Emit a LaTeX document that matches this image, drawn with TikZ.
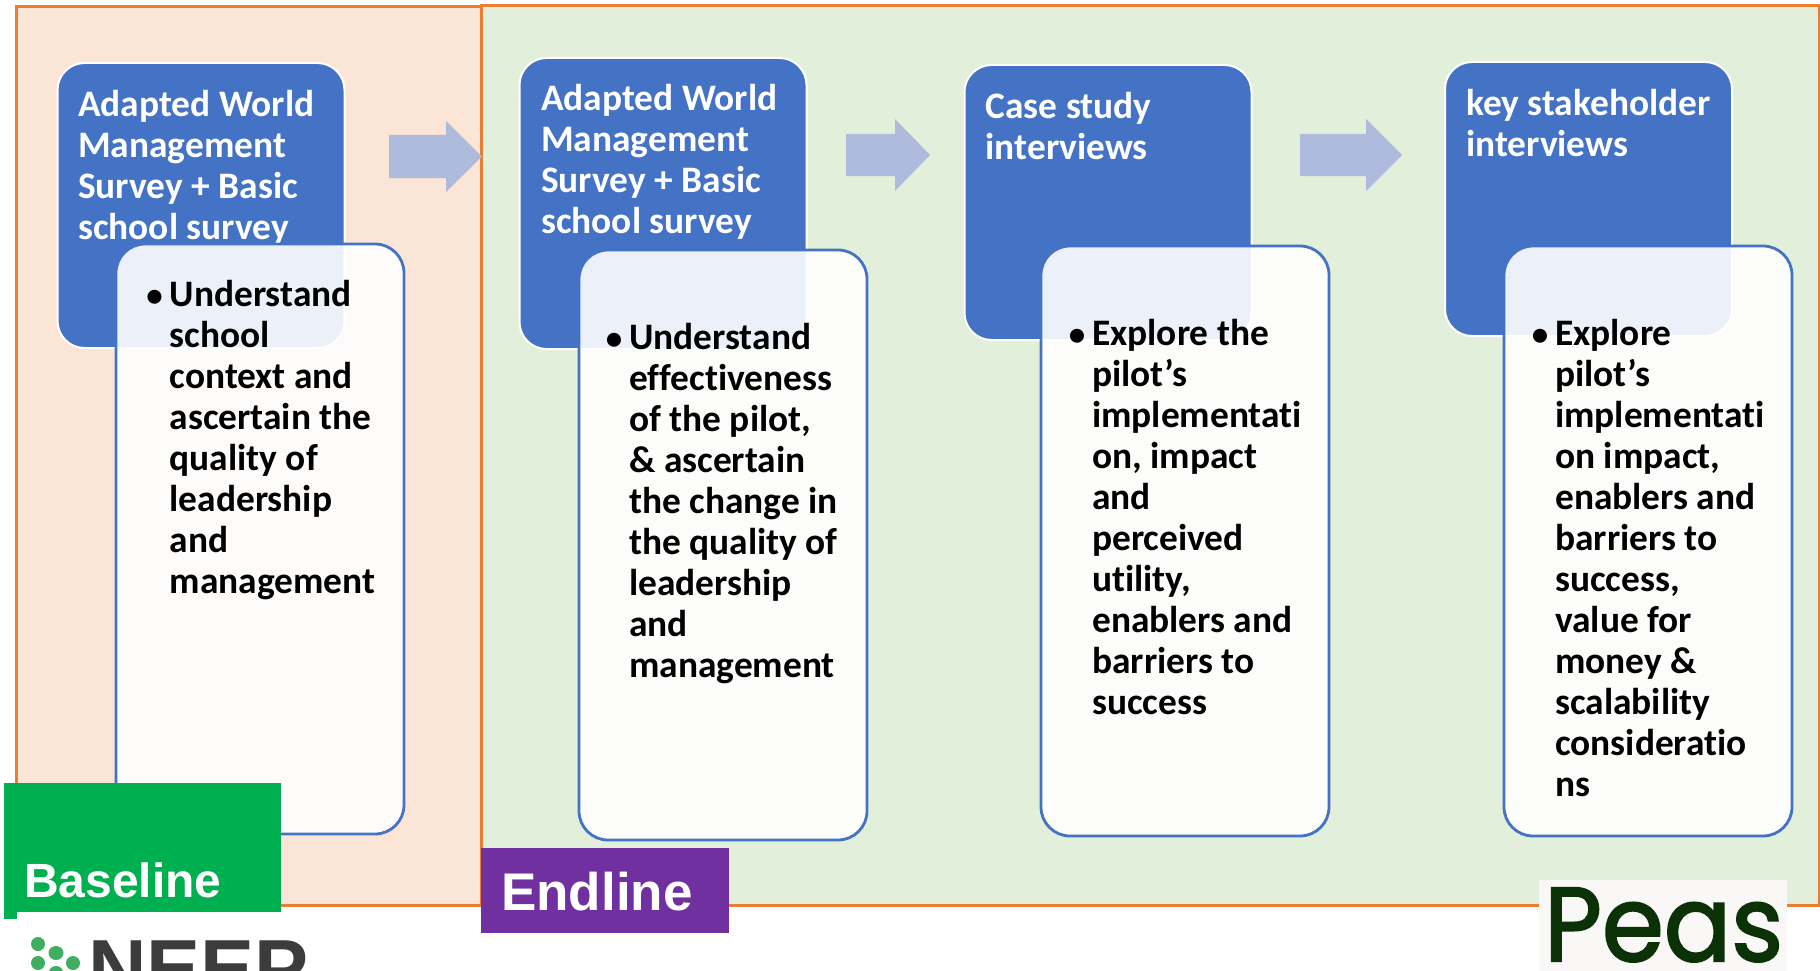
\documentclass[tikz,border=0pt]{standalone}
\usepackage{fontspec}
\setmainfont[Ligatures=NoCommon]{Carlito}
\newfontfamily\arialfont{Liberation Sans}
\newfontfamily\peasfont[FakeBold=2]{Poppins}
\definecolor{panelorange}{HTML}{ED7D31}
\definecolor{peach}{HTML}{FBE5D6}
\definecolor{palegreen}{HTML}{E2EFDA}
\definecolor{headblue}{HTML}{4472C4}
\definecolor{arrowblue}{HTML}{AEBBDD}
\definecolor{basegreen}{HTML}{00B050}
\definecolor{endpurple}{HTML}{7030A0}
\definecolor{neepgrey}{HTML}{3C3C3C}
\definecolor{neepgreen}{HTML}{3FAE60}
\definecolor{peasgreen}{HTML}{0B3207}
\definecolor{peasback}{HTML}{F9F8F6}
\newcommand{\firstline}{\rule{0pt}{30pt}}
\newcommand{\bul}{\llap{{\fontsize{33}{33}\selectfont\textbullet}\hspace{7pt}}}
\tikzset{
  x=1pt,y=-1pt,
  box/.style={anchor=north west,inner sep=0pt,outer sep=0pt,minimum width=#1},
  panel/.style={draw=panelorange,line width=3pt},
  headbox/.style={box=287pt,fill=headblue,draw=white,line width=2pt,rounded corners=27pt},
  bodybox/.style={box=288pt,fill=white,fill opacity=0.9,draw=headblue,draw opacity=1,line width=2.8pt,rounded corners=29pt},
  headtext/.style={anchor=north west,inner sep=0pt,align=left,text=white,font=\fontsize{37.4}{41}\selectfont\bfseries},
  bodytext/.style={anchor=north west,inner sep=0pt,align=left,text=black,font=\fontsize{37.4}{41}\selectfont\bfseries},
  blockarrow/.style={fill=arrowblue,draw=none},
  tag/.style={anchor=north west,inner sep=0pt,outer sep=0pt,draw=none},
  tagtext/.style={anchor=base west,inner sep=0pt,text=white,font=\arialfont\bfseries},
  neepdot/.style={fill=neepgreen,draw=none},
}
\begin{document}
\begin{tikzpicture}
\useasboundingbox (0,0) rectangle (1820,971);
% panels
\fill[white] (0,0) rectangle (1820,971);
\node[box=1338pt,minimum height=899pt,panel,fill=palegreen] (endpanel) at (481,6) {};
\node[box=465pt,minimum height=898pt,panel,fill=peach] (basepanel) at (16,7) {};
% arrows
\fill[blockarrow] (389,135) -- (446,135) -- (446,121) -- (482,156.5) -- (446,192) -- (446,178) -- (389,178) -- cycle;
\fill[blockarrow] (846,134) -- (895,134) -- (895,119) -- (930,155) -- (895,191) -- (895,176) -- (846,176) -- cycle;
\fill[blockarrow] (1300,134) -- (1366,134) -- (1366,119) -- (1402,155) -- (1366,191) -- (1366,176) -- (1300,176) -- cycle;
% header boxes
\node[headbox,minimum height=285pt] (h1) at (57.5,63) {};
\node[headbox,minimum height=291pt] (h2) at (519.5,58) {};
\node[headbox,minimum height=275pt] (h3) at (964.5,65) {};
\node[headbox,minimum height=274pt] (h4) at (1445,62) {};
% header texts
\node[headtext] (t1) at (78,86) {\firstline Adapted World\\Management\\Survey + Basic\\school survey};
\node[headtext] (t2) at (541,80) {\firstline Adapted World\\Management\\Survey + Basic\\school survey};
\node[headtext] (t3) at (985.5,88) {\firstline Case study\\interviews};
\node[headtext] (t4) at (1466,85) {\firstline key stakeholder\\interviews};
% body boxes
\node[bodybox,minimum height=590pt] (b1) at (116,244) {};
\node[bodybox,minimum height=590pt] (b2) at (579,250) {};
\node[bodybox,minimum height=590pt] (b3) at (1041,246) {};
\node[bodybox,minimum height=590pt] (b4) at (1504,246) {};
% body texts
\node[bodytext] (d1) at (169.5,276) {\firstline\bul Understand\\school\\context and\\ascertain the\\quality of\\leadership\\and\\management};
\node[bodytext] (d2) at (629,319) {\firstline\bul Understand\\effectiveness\\of the pilot,\\\& ascertain\\the change in\\the quality of\\leadership\\and\\management};
\node[bodytext] (d3) at (1092,315) {\firstline\bul Explore the\\pilot’s\\implementati\\on, impact\\and\\perceived\\utility,\\enablers and\\barriers to\\success};
\node[bodytext] (d4) at (1555,315) {\firstline\bul Explore\\pilot’s\\implementati\\on impact,\\enablers and\\barriers to\\success,\\value for\\money \&\\scalability\\consideratio\\ns};
% tags
\fill[basegreen] (4,783) rectangle (281,912);
\fill[basegreen] (4,912) rectangle (17,919);
\node[tagtext,font=\arialfont\bfseries\fontsize{48}{48}\selectfont] (basetag) at (24,897) {Baseline};
\node[tag,fill=endpurple,minimum width=248pt,minimum height=85pt] (endbox) at (481,848) {};
\node[tagtext,font=\arialfont\bfseries\fontsize{53}{53}\selectfont] (endtag) at (501,910) {Endline};
% NEEP logo
\fill[neepdot] (38,944) ellipse (7 and 7);
\fill[neepdot] (56,953) ellipse (7.5 and 7);
\fill[neepdot] (38,963) ellipse (7 and 7);
\fill[neepdot] (73,963) ellipse (7 and 7);
\fill[neepdot] (56,972) ellipse (7 and 6);
\node[anchor=base west,inner sep=0pt,text=neepgrey,font=\arialfont\bfseries\fontsize{81}{81}\selectfont] (neep) at (88,996) {NEEP};
% Peas logo
\fill[peasback] (1539,880) rectangle (1787,971);
\node[anchor=base west,inner sep=0pt,text=peasgreen,xscale=0.95,font=\peasfont\fontsize{105}{105}\selectfont] (peas) at (1544,961) {Peas};
\end{tikzpicture}
\end{document}
